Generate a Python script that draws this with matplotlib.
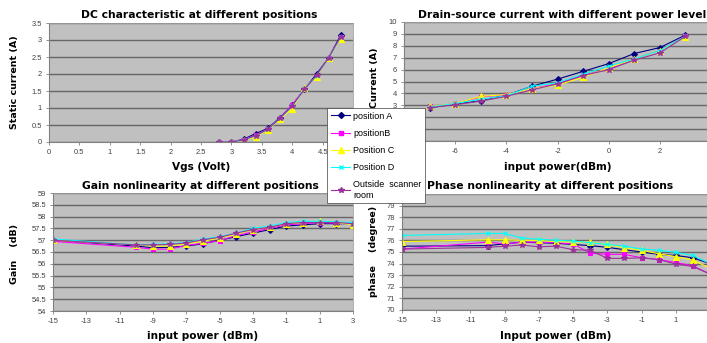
import matplotlib
matplotlib.use("Agg")
import matplotlib.pyplot as plt
from matplotlib.lines import Line2D

plt.rcParams['font.family'] = ['Liberation Sans', 'DejaVu Sans']

# --- данные ---
series_names = ["position A", "positionB", "Position C", "Position D",
                "Outside  scanner\nroom"]
series_colors = ["#000080", "#FF00FF", "#FFFF00", "#00FFFF", "#993399"]
series_markers = ["D", "s", "^", "x", "*"]

# DC characteristic
vgs = [2.8, 3.0, 3.2, 3.4, 3.6, 3.8, 4.0, 4.2, 4.4, 4.6, 4.8]
dc_a = [0, 0, 0.08, 0.25, 0.40, 0.72, 1.08, 1.55, 2.00, 2.48, 3.15]
dc_b = [0, 0, 0.07, 0.20, 0.38, 0.70, 1.10, 1.55, 1.95, 2.48, 3.10]
dc_c = [0, 0, 0.05, 0.15, 0.35, 0.68, 0.98, 1.58, 1.92, 2.48, 3.04]
dc_d = [0, 0, 0.06, 0.18, 0.37, 0.70, 1.05, 1.56, 1.95, 2.48, 3.08]
dc_e = [0, 0, 0.06, 0.19, 0.37, 0.70, 1.06, 1.55, 1.96, 2.48, 3.10]
dc_xticks = [0, 0.5, 1, 1.5, 2, 2.5, 3, 3.5, 4, 4.5, 5]
dc_yticks = [0, 0.5, 1, 1.5, 2, 2.5, 3, 3.5]

# Drain-source current
pin_ds = [-7, -6, -5, -4, -3, -2, -1, 0, 1, 2, 3]
ds_a = [2.80, 3.10, 3.40, 3.85, 4.60, 5.20, 5.85, 6.50, 7.35, 7.85, 8.90]
ds_b = [2.90, 3.15, 3.70, 3.90, 4.40, 4.80, 5.50, 6.05, 6.90, 7.60, 8.80]
ds_c = [2.90, 3.15, 3.75, 3.90, 4.40, 4.70, 5.35, 6.15, 6.90, 7.60, 8.75]
ds_d = [2.85, 3.15, 3.50, 3.80, 4.60, 4.90, 5.60, 6.30, 6.90, 7.60, 8.80]
ds_e = [2.80, 3.05, 3.35, 3.75, 4.30, 4.80, 5.50, 6.00, 6.80, 7.40, 8.80]
ds_xticks = [-8, -6, -4, -2, 0, 2]
ds_yticks = list(range(0, 11))

# Gain / phase
pin = [-15, -10, -9, -8, -7, -6, -5, -4, -3, -2, -1, 0, 1, 2, 3]
gain_a = [57.00, 56.75, 56.68, 56.70, 56.75, 56.85, 57.00, 57.15, 57.30, 57.45,
          57.60, 57.65, 57.70, 57.70, 57.70]
gain_b = [56.95, 56.70, 56.62, 56.62, 56.78, 56.87, 56.98, 57.20, 57.35, 57.50,
          57.65, 57.70, 57.75, 57.72, 57.70]
gain_c = [57.00, 56.80, 56.75, 56.75, 56.85, 56.95, 57.10, 57.25, 57.45, 57.55,
          57.70, 57.75, 57.80, 57.75, 57.65]
gain_d = [57.05, 56.80, 56.82, 56.85, 56.90, 57.05, 57.15, 57.30, 57.50, 57.60,
          57.75, 57.80, 57.80, 57.78, 57.75]
gain_e = [57.00, 56.80, 56.80, 56.82, 56.88, 57.02, 57.12, 57.30, 57.45, 57.55,
          57.70, 57.75, 57.75, 57.75, 57.70]
gain_xticks = list(range(-15, 4, 2))
gain_yticks = [54, 54.5, 55, 55.5, 56, 56.5, 57, 57.5, 58, 58.5, 59]

phase_a = [75.50, 75.55, 75.70, 75.85, 75.80, 75.75, 75.65, 75.55, 75.40, 75.20,
           75.00, 74.80, 74.70, 74.50, 74.00]
phase_b = [75.25, 75.85, 75.70, 75.85, 75.85, 75.80, 75.70, 74.90, 74.80, 74.80,
           74.50, 74.35, 74.10, 73.80, 73.10]
phase_c = [75.90, 76.05, 76.05, 76.00, 76.00, 75.90, 75.85, 75.85, 75.65, 75.35,
           75.15, 74.85, 74.60, 74.30, 73.60]
phase_d = [76.43, 76.60, 76.60, 76.20, 76.10, 76.00, 75.95, 75.80, 75.65, 75.50,
           75.25, 75.15, 74.97, 74.70, 74.00]
phase_e = [75.25, 75.40, 75.50, 75.60, 75.45, 75.50, 75.20, 75.15, 74.45, 74.45,
           74.50, 74.35, 73.95, 73.75, 73.10]
phase_xticks = list(range(-15, 2, 2))
phase_yticks = list(range(70, 81))

W, H = 707, 343


def rect(l, t, r, b):
    # пиксели -> доли фигуры
    return [l / W, 1 - b / H, (r - l) / W, (b - t) / H]


def fx(x):
    return x / W


def fy(y):
    return 1 - y / H


def labels(ticks, hidden=()):
    # подписи, закрытые легендой, не выводим
    return ["" if v in hidden else f"{v:g}" for v in ticks]


def draw(ax, x, ys, xlim, ylim, xticks, yticks, xhide=(), yhide=()):
    ax.set_facecolor("#C0C0C0")
    for y, c, m in zip(ys, series_colors, series_markers):
        ms = 4 if m in ("^", "*") else 3
        ax.plot(x, y, color=c, marker=m, markersize=ms, linewidth=0.8,
                markeredgewidth=0.8, markeredgecolor=c)
    ax.set_xlim(*xlim)
    ax.set_ylim(*ylim)
    ax.set_xticks(xticks)
    ax.set_yticks(yticks)
    ax.set_xticklabels(labels(xticks, xhide))
    ax.set_yticklabels(labels(yticks, yhide))
    ax.yaxis.grid(True, color="#666666", linewidth=1.0)
    ax.set_axisbelow(True)
    ax.tick_params(labelsize=5.4, labelcolor="#404040", length=2,
                   width=0.6, color="#808080", pad=3)
    for s in ("left", "bottom"):
        ax.spines[s].set_color("#808080")
        ax.spines[s].set_linewidth(0.8)
    for s in ("top", "right"):
        ax.spines[s].set_color("#A0A0A0")
        ax.spines[s].set_linewidth(0.6)


fig = plt.figure(figsize=(W / 100, H / 100), dpi=100)
fig.patch.set_facecolor("white")

ax1 = fig.add_axes(rect(49, 23, 353, 142))
draw(ax1, vgs, [dc_a, dc_b, dc_c, dc_d, dc_e], (0, 5), (0, 3.5),
     dc_xticks, dc_yticks, xhide=(5,))

# правый край графика за пределами картинки, как в оригинале
ax2 = fig.add_axes(rect(404, 22, 711, 141))
draw(ax2, pin_ds, [ds_a, ds_b, ds_c, ds_d, ds_e], (-8, 4), (0, 10),
     ds_xticks, ds_yticks, xhide=(-8,), yhide=(0, 1, 2))

ax3 = fig.add_axes(rect(53, 193, 353, 311))
draw(ax3, pin, [gain_a, gain_b, gain_c, gain_d, gain_e], (-15, 3), (54, 59),
     gain_xticks, gain_yticks)

ax4 = fig.add_axes(rect(402, 194, 710, 310))
draw(ax4, pin, [phase_a, phase_b, phase_c, phase_d, phase_e], (-15, 3), (70, 80),
     phase_xticks, phase_yticks, yhide=(80,))

title_kw = dict(fontsize=7.75, fontweight="bold", color="black",
                family=["DejaVu Sans"], ha="center", va="center")
xlab_kw = dict(title_kw, fontsize=7.6)
ylab_kw = dict(title_kw, fontsize=6.8, rotation=90)

# заголовки
fig.text(fx(199), fy(15), "DC characteristic at different positions", **title_kw)
fig.text(fx(562), fy(15), "Drain-source current with different power level",
         **title_kw)
fig.text(fx(200), fy(186), "Gain nonlinearity at different positions", **title_kw)
fig.text(fx(550), fy(186), "Phase nonlinearity at different positions",
         **title_kw)

# подписи осей
fig.text(fx(201), fy(167), "Vgs (Volt)", **xlab_kw)
fig.text(fx(558), fy(167), "input power(dBm)", **xlab_kw)
fig.text(fx(203), fy(336), "input power (dBm)", **xlab_kw)
fig.text(fx(556), fy(336), "Input power (dBm)", **xlab_kw)

fig.text(fx(15), fy(82), "Static current (A)", **ylab_kw)
fig.text(fx(375), fy(78), "Current (A)", **ylab_kw)
fig.text(fx(14), fy(254), "Gain    (dB)", **ylab_kw)
fig.text(fx(373), fy(251), "phase    (degree)", **ylab_kw)

# легенда поверх всех графиков
handles = [Line2D([0], [0], color=c, marker=m, linewidth=0.8,
                  markersize=4 if m in ("^", "*") else 3, markeredgecolor=c)
           for c, m in zip(series_colors, series_markers)]
leg = fig.legend(handles, series_names, loc="upper left",
                 bbox_to_anchor=(fx(327), fy(108)), frameon=True,
                 fancybox=False, shadow=False, fontsize=6.5,
                 handlelength=2.2, handletextpad=0.3, labelspacing=0.9,
                 borderpad=0.4, borderaxespad=0)
for t in leg.get_texts():
    t.set_linespacing(1.25)
leg.get_frame().set_edgecolor("#404040")
leg.get_frame().set_linewidth(0.5)
leg.get_frame().set_facecolor("white")
leg.get_frame().set_alpha(1)
leg.set_zorder(10)

fig.savefig("out.png", dpi=100)
